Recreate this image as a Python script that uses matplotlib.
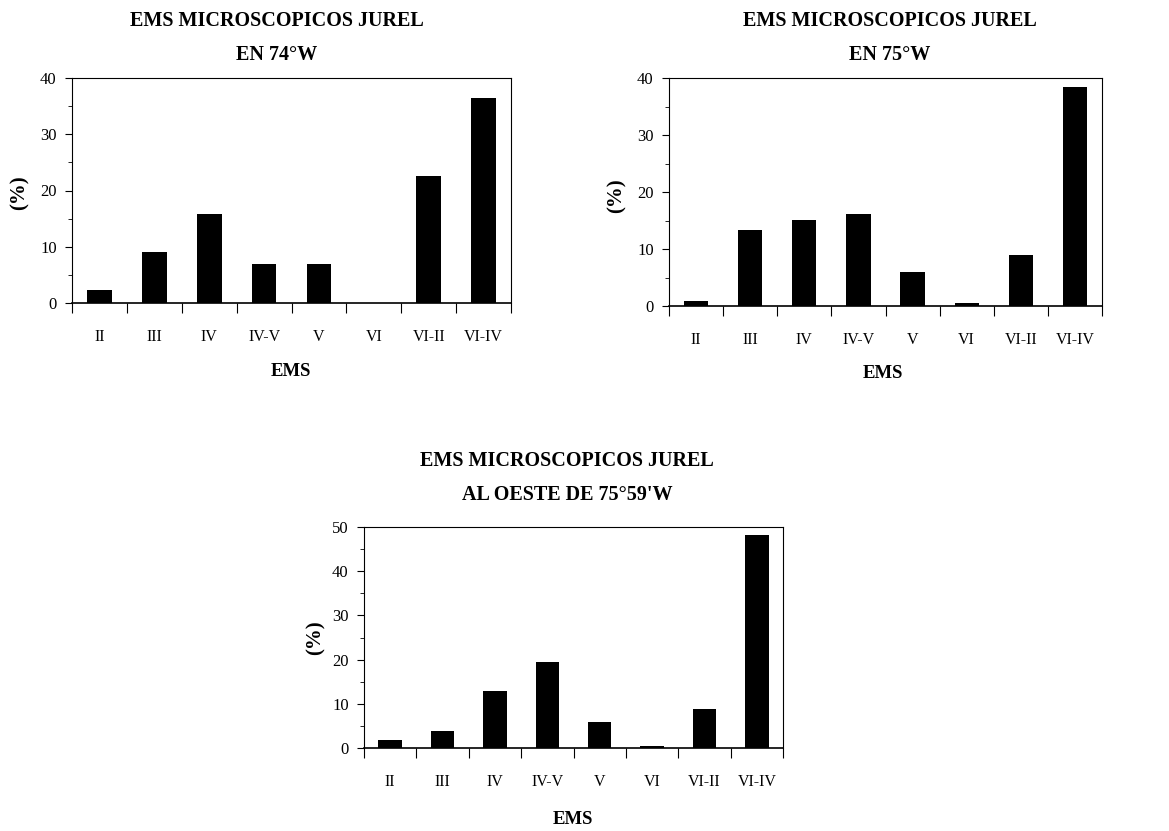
import numpy as np
import matplotlib
matplotlib.use('Agg')
import matplotlib.pyplot as plt
from matplotlib.ticker import FixedLocator, MultipleLocator

plt.rcParams['font.family'] = ['Liberation Serif', 'DejaVu Serif']

# estadios de madurez sexual (EMS)
categorias = ['II', 'III', 'IV', 'IV-V', 'V', 'VI', 'VI-II', 'VI-IV']

# porcentajes
pct_74w = [2.3, 9.1, 15.8, 6.9, 6.9, 0.0, 22.6, 36.4]
pct_75w = [0.9, 13.3, 15.1, 16.1, 6.0, 0.6, 8.9, 38.5]
pct_oeste = [1.9, 3.8, 12.8, 19.5, 5.9, 0.4, 8.8, 48.1]

titulos = ['EMS MICROSCOPICOS JUREL\nEN 74°W',
           'EMS MICROSCOPICOS JUREL\nEN 75°W',
           'EMS MICROSCOPICOS JUREL\nAL OESTE DE 75°59\'W']
ymax = [40, 40, 50]

W, H = 1169, 831
fig = plt.figure(figsize=(W / 100, H / 100), dpi=100)


def px(x0, y0, x1, y1):
    # caja del eje en pixeles -> fraccion de figura
    return [x0 / W, 1 - y1 / H, (x1 - x0) / W, (y1 - y0) / H]


cajas = [px(72, 78, 511, 303), px(669, 78, 1102, 306), px(364, 527, 783, 748)]
pos_titulo = [(277, 38), (890, 38), (567, 478)]
pos_xlabel = [(291, 372), (883, 374), (573, 820)]
pos_ylabel = [(20, 193), (617, 196), (316, 638)]

for i, datos in enumerate([pct_74w, pct_75w, pct_oeste]):
    ax = fig.add_axes(cajas[i])
    x = np.arange(len(categorias))
    ax.bar(x, datos, width=0.45, color='black')
    ax.set_xlim(-0.5, len(categorias) - 0.5)
    ax.set_ylim(0, ymax[i])
    ax.yaxis.set_major_locator(MultipleLocator(10))
    ax.yaxis.set_minor_locator(MultipleLocator(5))
    # marcas en los limites de categoria, etiquetas al centro
    ax.xaxis.set_major_locator(FixedLocator(np.arange(-0.5, len(categorias), 1.0)))
    ax.xaxis.set_major_formatter(plt.NullFormatter())
    ax.xaxis.set_minor_locator(FixedLocator(x))
    ax.set_xticklabels(categorias, minor=True)
    ax.tick_params(axis='x', which='major', direction='out', length=7, width=0.8)
    ax.tick_params(axis='x', which='minor', length=0, pad=19, labelsize=11.5)
    ax.tick_params(axis='y', which='major', direction='out', length=5, width=0.8,
                   pad=6, labelsize=12)
    ax.tick_params(axis='y', which='minor', direction='out', length=3, width=0.6)
    for s in ax.spines.values():
        s.set_linewidth(0.8)
    ax.spines['bottom'].set_linewidth(1.2)

    tx, ty = pos_titulo[i]
    fig.text(tx / W, 1 - ty / H, titulos[i], ha='center', va='center',
             fontsize=14.5, fontweight='bold', linespacing=2.0)
    lx, ly = pos_xlabel[i]
    fig.text(lx / W, 1 - ly / H, 'EMS', ha='center', va='center',
             fontsize=13.5, fontweight='bold')
    yx, yy = pos_ylabel[i]
    fig.text(yx / W, 1 - yy / H, '(%)', ha='center', va='center',
             fontsize=15, fontweight='bold', rotation=90)

fig.savefig('out.png', dpi=100, facecolor='white')
